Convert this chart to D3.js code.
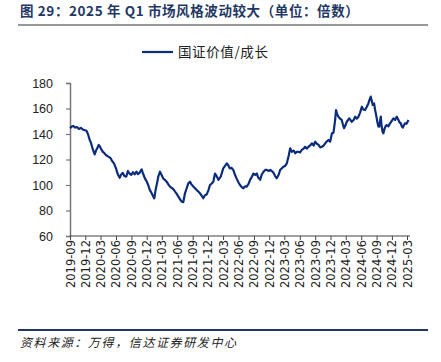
<!DOCTYPE html>
<html>
<head>
<meta charset="utf-8">
<script src="https://cdn.jsdelivr.net/npm/d3@7"></script>
<style>
  html, body { margin: 0; padding: 0; background: #fff; }
  svg { display: block; }
</style>
</head>
<body>
<svg id="chart" width="441" height="362"></svg>
<script>
const titleText = "图 29：2025 年 Q1 市场风格波动较大（单位：倍数）";
const sourceText = "资料来源：万得，信达证券研发中心";
const seriesName = "国证价值/成长";

const yTicks = [60, 80, 100, 120, 140, 160, 180];
const xTickLabels = ["2019-09","2019-12","2020-03","2020-06","2020-09","2020-12","2021-03","2021-06","2021-09","2021-12","2022-03","2022-06","2022-09","2022-12","2023-03","2023-06","2023-09","2023-12","2024-03","2024-06","2024-09","2024-12","2025-03"];

const dates = [
"2019-09-02","2019-09-13","2019-09-22","2019-10-01","2019-10-12","2019-10-24","2019-11-05","2019-11-17","2019-11-29","2019-12-08",
"2019-12-17","2019-12-27","2020-01-04","2020-01-16","2020-01-26","2020-02-03","2020-02-11","2020-02-19","2020-02-27","2020-03-03",
"2020-03-15","2020-03-24","2020-04-02","2020-04-14","2020-04-30","2020-05-08","2020-05-20","2020-06-01","2020-06-07","2020-06-13",
"2020-06-23","2020-07-01","2020-07-12","2020-07-21","2020-08-01","2020-08-11","2020-08-20","2020-08-31","2020-09-10","2020-09-20",
"2020-10-01","2020-10-10","2020-10-19","2020-11-01","2020-11-09","2020-11-21","2020-11-30","2020-12-10","2020-12-20","2020-12-29",
"2021-01-09","2021-01-15","2021-01-23","2021-01-31","2021-02-08","2021-02-18","2021-02-27","2021-03-10","2021-03-20","2021-03-30",
"2021-04-09","2021-04-19","2021-05-01","2021-05-10","2021-05-19","2021-05-29","2021-06-07","2021-06-17","2021-06-27","2021-07-07",
"2021-07-17","2021-07-26","2021-08-06","2021-08-16","2021-08-25","2021-09-05","2021-09-15","2021-09-25","2021-10-04","2021-10-14",
"2021-10-23","2021-11-03","2021-11-13","2021-11-23","2021-12-04","2021-12-13","2021-12-22","2022-01-02","2022-01-12","2022-01-22",
"2022-02-01","2022-02-15","2022-02-23","2022-03-02","2022-03-13","2022-03-23","2022-04-01","2022-04-11","2022-04-20","2022-05-01",
"2022-05-11","2022-05-21","2022-06-01","2022-06-10","2022-06-19","2022-06-30","2022-07-10","2022-07-20","2022-07-31","2022-08-09",
"2022-08-18","2022-08-29","2022-09-08","2022-09-18","2022-09-26","2022-10-08","2022-10-17","2022-10-28","2022-11-07","2022-11-17",
"2022-11-28","2022-12-07","2022-12-16","2022-12-26","2023-01-05","2023-01-15","2023-01-26","2023-02-04","2023-02-13","2023-02-24",
"2023-03-06","2023-03-16","2023-03-27","2023-04-05","2023-04-15","2023-04-26","2023-05-05","2023-05-14","2023-05-25","2023-06-03",
"2023-06-13","2023-06-24","2023-07-03","2023-07-12","2023-07-23","2023-08-02","2023-08-12","2023-08-23","2023-09-01","2023-09-10",
"2023-09-21","2023-10-01","2023-10-11","2023-10-22","2023-10-31","2023-11-08","2023-11-19","2023-11-29","2023-12-10","2023-12-19",
"2023-12-29","2024-01-03","2024-01-09","2024-01-17","2024-01-27","2024-02-06","2024-02-14","2024-02-20","2024-02-29","2024-03-07",
"2024-03-15","2024-03-22","2024-04-06","2024-04-17","2024-04-26","2024-05-05","2024-05-16","2024-05-26","2024-06-05","2024-06-15",
"2024-06-24","2024-07-03","2024-07-14","2024-07-21","2024-07-28","2024-08-03","2024-08-09","2024-08-17","2024-08-23","2024-08-29",
"2024-09-05","2024-09-11","2024-09-17","2024-09-21","2024-09-26","2024-09-30","2024-10-06","2024-10-11","2024-10-18","2024-10-24",
"2024-10-31","2024-11-10","2024-11-20","2024-11-29","2024-12-10","2024-12-20","2024-12-30","2025-01-09","2025-01-16","2025-01-23",
"2025-01-29","2025-02-04","2025-02-11","2025-02-17","2025-02-26","2025-03-10"
];

const values = [
144.5,146,146.3,145,145.5,144,144.8,143.5,143,142.5,
140,135.5,133,127.5,124,127,129,131.4,130,128.5,
126,125,123.5,122.5,121,119,117,113,110.5,108,
105.7,108,109.5,107,106.5,111,109,108,110,108.4,
110.5,108.5,109.5,112.3,109,105,103,100,96,94,
91,89.5,96,101,106.5,110.4,108,105,104,102.6,
100.5,98.7,97.5,96.5,94.8,93,91,89,87,86.5,
93.5,97,101.3,102.6,100.5,98.7,97.5,96,95,93.5,
92,89.6,92,92.5,96,100,101,102.6,109,107,
104,106.5,110,113,115,117,115.5,113,113.5,111.8,
108,105,102,100,98.5,97.4,99,98.7,101,104,
106,109,108,109,106,104,108,110.4,111.8,111.8,
111,111.8,111,109.7,107,105.3,108,111.8,113,114.4,
115,117,123,128.8,126,127,124.9,126,126,125.5,
127.5,128.5,130,128.5,130,131,132.7,131,134,132.5,
131.4,129.5,130,131,132.7,134,135.3,134,140.5,141,
151,158.8,156,153.6,152,151,147,144.5,147,149.6,
151,152.3,149.6,151,153.6,152,153.6,157,161.4,159,
158.8,161,164,167,169.3,166,162.8,164,158.8,155,
149.6,146,145.7,150,153.6,147,142,140.5,144,146,
147,146,148.4,150,152.3,151,153.6,151,149,148.4,
146,145,147,148.4,148,151
];

const data = dates.map((d, i) => ({ date: d3.timeParse("%Y-%m-%d")(d), value: values[i] }));

const svg = d3.select("#chart");
const navy = "#0b2c7d";
const titleColor = "#1f3864";

// Title
svg.append("text")
  .attr("x", 20).attr("y", 16)
  .attr("font-family", "'Noto Sans CJK SC', sans-serif")
  .attr("font-weight", "bold")
  .attr("font-size", 13.5)
  .attr("letter-spacing", 0.6)
  .attr("fill", titleColor)
  .text(titleText);

svg.append("line")
  .attr("x1", 18).attr("x2", 428).attr("y1", 25).attr("y2", 25)
  .attr("stroke", "#333").attr("stroke-width", 1);

// Legend
svg.append("line")
  .attr("x1", 142).attr("x2", 173).attr("y1", 52).attr("y2", 52)
  .attr("stroke", navy).attr("stroke-width", 2.2);
svg.append("text")
  .attr("x", 178).attr("y", 57)
  .attr("font-family", "'Noto Sans CJK SC', sans-serif")
  .attr("font-size", 13.5)
  .attr("letter-spacing", 0.6)
  .attr("fill", "#222")
  .text(seriesName);

// Scales
const x = d3.scaleTime()
  .domain([new Date(2019, 8, 1), new Date(2025, 2, 1)])
  .range([70, 407]);
const y = d3.scaleLinear().domain([60, 180]).range([236, 83]);

// Y axis
const yAxis = d3.axisLeft(y).tickValues(yTicks).tickSize(4).tickPadding(13);
const gy = svg.append("g").attr("transform", "translate(70,0)").call(yAxis);
gy.select(".domain").attr("stroke", "#777").attr("stroke-width", 1.5);
gy.selectAll(".tick line").attr("stroke", "#777").attr("stroke-width", 1.2);
gy.selectAll(".tick text")
  .attr("font-family", "'Liberation Sans', Arial, sans-serif")
  .attr("font-size", 12.5)
  .attr("fill", "#222");

// X axis
const tickDates = xTickLabels.map(s => d3.timeParse("%Y-%m")(s));
const xAxis = d3.axisBottom(x).tickValues(tickDates).tickSize(4).tickSizeOuter(0)
  .tickFormat((d, i) => xTickLabels[i]);
const gx = svg.append("g").attr("transform", "translate(0,236)").call(xAxis);
gx.select(".domain").attr("stroke", "#444").attr("stroke-width", 1.2).attr("d", "M70,0H410");
gx.selectAll(".tick line").attr("stroke", "#444").attr("stroke-width", 1);
gx.selectAll(".tick text")
  .attr("font-family", "'DejaVu Sans', sans-serif")
  .attr("font-size", 11.5)
  .attr("fill", "#222")
  .attr("text-anchor", "end")
  .attr("dx", 0).attr("dy", 0)
  .attr("transform", "translate(4,4) rotate(-90)")
  .attr("x", 0).attr("y", 0);

// Line
const line = d3.line().x(d => x(d.date)).y(d => y(d.value));
svg.append("path")
  .datum(data)
  .attr("fill", "none")
  .attr("stroke", navy)
  .attr("stroke-width", 2.2)
  .attr("stroke-linejoin", "round")
  .attr("d", line);

// Bottom rule & source
svg.append("line")
  .attr("x1", 18).attr("x2", 428).attr("y1", 330).attr("y2", 330)
  .attr("stroke", titleColor).attr("stroke-width", 2);
svg.append("text")
  .attr("x", 20).attr("y", 347)
  .attr("font-family", "'Noto Sans CJK SC', sans-serif")
  .attr("font-size", 12)
  .attr("font-style", "italic")
  .attr("letter-spacing", 1.6)
  .attr("fill", "#222")
  .text(sourceText);
</script>
</body>
</html>
